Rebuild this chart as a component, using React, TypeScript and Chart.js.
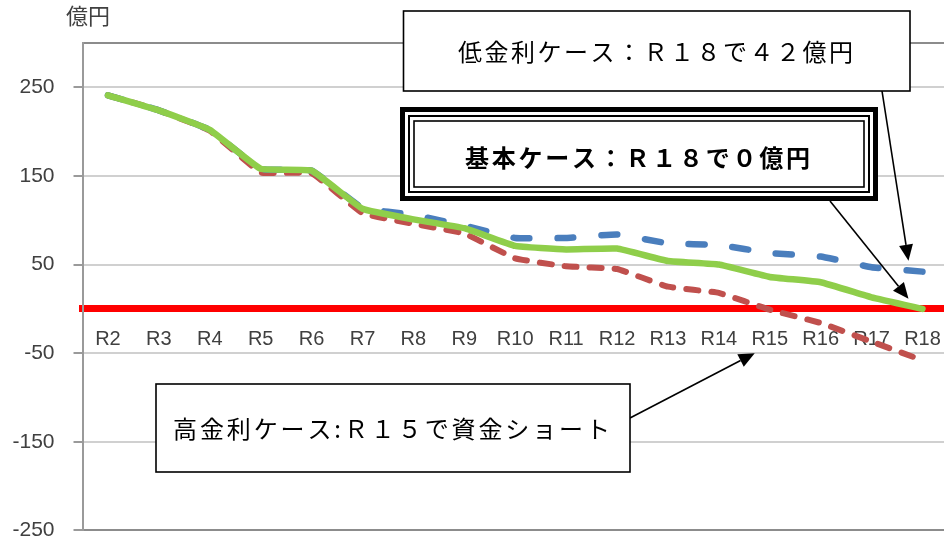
import React, { useEffect, useRef } from 'react';
import { Chart, registerables } from 'chart.js';

Chart.register(...registerables);

// ---- data ----
const categories = ['R2', 'R3', 'R4', 'R5', 'R6', 'R7', 'R8', 'R9', 'R10', 'R11', 'R12', 'R13', 'R14', 'R15', 'R16', 'R17', 'R18'];
const basicCase = [241, 224, 202, 158, 156, 113, 101, 91, 71, 67, 68, 54, 50, 36, 30, 13, 0];
const lowRateCase = [241, 224, 202, 158, 156, 114, 106, 94, 80, 80, 84, 74, 72, 63, 59, 47, 42];
const highRateCase = [241, 224, 201, 154, 153, 108, 96, 85, 57, 48, 45, 25, 18, -1, -16, -37, -58];
const yTickValues = [-250, -150, -50, 50, 150, 250, 300];
const unitLabel = '億円';
const noteLow = '低金利ケース：Ｒ１８で４２億円';
const noteBasic = '基本ケース：Ｒ１８で０億円';
const noteHigh = '高金利ケース:Ｒ１５で資金ショート';

const LABEL_FONT = '"Liberation Sans", Arial, sans-serif';
const CJK_FONT = '"Noto Sans CJK JP", "Noto Sans CJK SC", sans-serif';

function spacedText(ctx: CanvasRenderingContext2D, text: string, cx: number, cy: number, width: number) {
  const chars = Array.from(text);
  const widths = chars.map((c) => ctx.measureText(c).width);
  const total = widths.reduce((a, b) => a + b, 0);
  const gap = chars.length > 1 ? (width - total) / (chars.length - 1) : 0;
  let x = cx - width / 2;
  ctx.textAlign = 'left';
  ctx.textBaseline = 'middle';
  chars.forEach((c, i) => {
    ctx.fillText(c, x, cy);
    x += widths[i] + gap;
  });
}

function arrow(ctx: CanvasRenderingContext2D, x1: number, y1: number, x2: number, y2: number) {
  const ang = Math.atan2(y2 - y1, x2 - x1);
  const len = 16;
  const hw = 7;
  const bx = x2 - len * Math.cos(ang);
  const by = y2 - len * Math.sin(ang);
  ctx.strokeStyle = '#000';
  ctx.lineWidth = 1.6;
  ctx.beginPath();
  ctx.moveTo(x1, y1);
  ctx.lineTo(bx, by);
  ctx.stroke();
  ctx.fillStyle = '#000';
  ctx.beginPath();
  ctx.moveTo(x2, y2);
  ctx.lineTo(bx + hw * Math.sin(ang), by - hw * Math.cos(ang));
  ctx.lineTo(bx - hw * Math.sin(ang), by + hw * Math.cos(ang));
  ctx.closePath();
  ctx.fill();
}

const notesPlugin = {
  id: 'notes',
  afterDraw(chart: any) {
    const ctx: CanvasRenderingContext2D = chart.ctx;
    const xs = chart.scales.x;
    const ys = chart.scales.y;
    const last = categories.length - 1;
    const r15 = categories.indexOf('R15');
    ctx.save();

    // unit label
    ctx.fillStyle = '#404040';
    ctx.font = `22px ${CJK_FONT}`;
    ctx.textAlign = 'left';
    ctx.textBaseline = 'middle';
    ctx.fillText(unitLabel, 66, 16);

    // arrows
    const xEnd = xs.getPixelForValue(last);
    arrow(ctx, 882, 91, xEnd - 14, ys.getPixelForValue(lowRateCase[last]) - 11);
    arrow(ctx, 830, 201, xEnd - 14, ys.getPixelForValue(basicCase[last]) - 10);
    arrow(ctx, 630, 418, xs.getPixelForValue(r15) - 15, ys.getPixelForValue(-50));

    // low-rate box
    ctx.fillStyle = '#fff';
    ctx.fillRect(403.5, 11, 506.5, 80);
    ctx.strokeStyle = '#000';
    ctx.lineWidth = 1.6;
    ctx.strokeRect(403.5, 11, 506.5, 80);
    ctx.fillStyle = '#000';
    ctx.font = `24px ${CJK_FONT}`;
    spacedText(ctx, noteLow, 655.5, 52, 395);

    // basic box (triple frame)
    const bx = 400, by = 107, bw = 478, bh = 94;
    ctx.fillStyle = '#fff';
    ctx.fillRect(bx, by, bw, bh);
    ctx.strokeStyle = '#000';
    ctx.lineWidth = 5;
    ctx.strokeRect(bx + 2.5, by + 2.5, bw - 5, bh - 5);
    ctx.lineWidth = 2;
    ctx.strokeRect(bx + 9, by + 9, bw - 18, bh - 18);
    ctx.lineWidth = 1.6;
    ctx.strokeRect(bx + 14, by + 14, bw - 28, bh - 28);
    ctx.fillStyle = '#000';
    ctx.font = `bold 24px ${CJK_FONT}`;
    spacedText(ctx, noteBasic, 637.5, 157.5, 345);

    // high-rate box
    ctx.fillStyle = '#fff';
    ctx.fillRect(156, 384, 474, 88);
    ctx.strokeStyle = '#000';
    ctx.lineWidth = 1.6;
    ctx.strokeRect(156, 384, 474, 88);
    ctx.fillStyle = '#000';
    ctx.font = `24px ${CJK_FONT}`;
    spacedText(ctx, noteHigh, 391.5, 428.5, 437);

    ctx.restore();
  },
};

export default function App() {
  const ref = useRef<HTMLCanvasElement | null>(null);

  useEffect(() => {
    if (!ref.current) return;
    const chart = new Chart(ref.current, {
      type: 'line',
      data: {
        labels: categories,
        datasets: [
          {
            label: '基本ケース',
            data: basicCase,
            borderColor: '#8fce4a',
            borderWidth: 6.5,
            pointRadius: 0,
            tension: 0.1,
            borderCapStyle: 'round',
            borderJoinStyle: 'round',
          },
          {
            label: '低金利ケース',
            data: lowRateCase,
            borderColor: '#4a7ebd',
            borderWidth: 6.5,
            borderDash: [16, 28],
            pointRadius: 0,
            tension: 0.1,
            borderCapStyle: 'round',
            borderJoinStyle: 'round',
          },
          {
            label: '高金利ケース',
            data: highRateCase,
            borderColor: '#c0504d',
            borderWidth: 6,
            borderDash: [12, 13],
            pointRadius: 0,
            tension: 0.1,
            borderCapStyle: 'round',
            borderJoinStyle: 'round',
          },
        ],
      },
      options: {
        animation: false,
        responsive: false,
        events: [],
        layout: { padding: { top: 43, bottom: 13, left: 0, right: 6 } },
        plugins: {
          legend: { display: false },
          tooltip: { enabled: false },
          title: { display: false },
        },
        scales: {
          x: {
            type: 'category',
            offset: true,
            position: { y: 0 },
            grid: { display: false, drawTicks: false },
            border: { display: true, color: '#ff0000', width: 7 },
            ticks: {
              color: '#404040',
              font: { family: LABEL_FONT, size: 20 },
              padding: 19,
              maxRotation: 0,
              autoSkip: false,
            },
          },
          y: {
            type: 'linear',
            min: -250,
            max: 300,
            afterBuildTicks: (s: any) => {
              s.ticks = yTickValues.map((v) => ({ value: v }));
            },
            afterFit: (s: any) => {
              s.width = 82.5;
            },
            ticks: {
              color: '#404040',
              font: { family: LABEL_FONT, size: 21 },
              padding: 19,
              callback: (v: any) => (v === 300 ? '' : String(v)),
            },
            grid: {
              color: (c: any) =>
                c.tick && (c.tick.value === 300 || c.tick.value === -250) ? '#8c8c8c' : '#d0d0d0',
              lineWidth: 2,
              drawTicks: true,
              tickLength: 9,
              tickColor: (c: any) => (c.tick && c.tick.value === 300 ? 'rgba(0,0,0,0)' : '#9a9a9a'),
            },
            border: { color: '#9a9a9a', width: 2 },
          },
        },
      } as any,
      plugins: [notesPlugin],
    });
    return () => chart.destroy();
  }, []);

  return (
    <div
      style={{
        position: 'absolute',
        left: 0,
        top: 0,
        width: 944,
        height: 543,
        overflow: 'hidden',
        background: '#fff',
      }}
    >
      <canvas ref={ref} width={960} height={562} style={{ display: 'block' }} />
    </div>
  );
}
